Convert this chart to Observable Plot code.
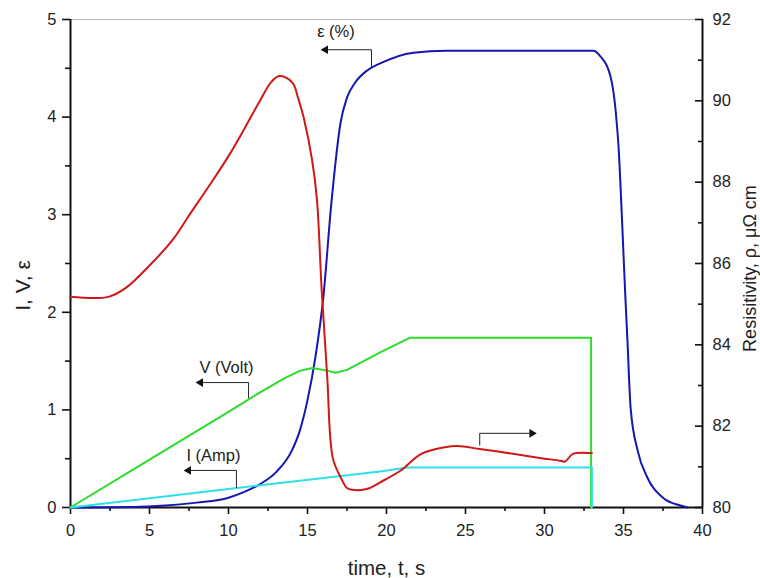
<!DOCTYPE html>
<html>
<head>
<meta charset="utf-8">
<script src="https://cdn.jsdelivr.net/npm/d3@7"></script>
<script src="https://cdn.jsdelivr.net/npm/@observablehq/plot@0.6"></script>
<style>
  html, body { margin: 0; padding: 0; background: #fff; }
</style>
</head>
<body>
<div id="chart"></div>
<script>
// ---- Data ----
// Resistivity rho (right axis, µΩ cm)
const tRho = [0, 2.4, 3.5, 5, 6.5, 7.5, 9, 10, 11, 12, 12.7, 13.2, 13.7, 14.1, 14.4, 14.75, 15.3, 15.6, 15.9, 16.25, 16.6, 17.1, 17.5, 18, 18.8, 19.6, 20.9, 22.2, 23.8, 24.5, 25.9, 28, 29.7, 31, 31.3, 31.8, 32.9, 33];
const rho  = [85.18, 85.18, 85.4, 85.95, 86.6, 87.18, 88.04, 88.64, 89.31, 90.01, 90.46, 90.61, 90.56, 90.42, 90.08, 89.6, 88.52, 87.56, 85.33, 83.2, 81.22, 80.74, 80.48, 80.43, 80.46, 80.62, 80.91, 81.32, 81.49, 81.51, 81.44, 81.32, 81.22, 81.15, 81.13, 81.32, 81.34, 81.34];
// Strain epsilon (%)
const tEps = [0, 4, 6, 8, 10, 11, 12, 13, 14, 14.5, 15, 15.5, 16, 16.5, 17.1, 17.5, 18, 18.8, 19.6, 21.7, 23.8, 33.1, 33.5, 34.2, 34.5, 34.7, 34.9, 35.1, 35.25, 35.45, 35.9, 36.5, 37.5, 38.6, 39.05];
const eps  = [0, 0.005, 0.02, 0.05, 0.1, 0.16, 0.24, 0.36, 0.58, 0.78, 1.1, 1.54, 2.15, 3.1, 3.95, 4.2, 4.35, 4.48, 4.55, 4.66, 4.68, 4.68, 4.63, 4.4, 4.07, 3.66, 2.97, 2.22, 1.71, 1.02, 0.58, 0.31, 0.1, 0.02, 0];
// Voltage V (Volt)
const tV = [0, 5, 10, 12, 13.5, 14.5, 15.3, 16, 16.8, 17.5, 19.6, 21.5, 32.95, 32.95];
const volt = [0, 0.49, 0.98, 1.18, 1.32, 1.40, 1.43, 1.41, 1.38, 1.41, 1.59, 1.74, 1.74, 0];
// Current I (Amp)
const tI = [0, 10, 19.6, 21.3, 33, 33];
const amp = [0, 0.19, 0.37, 0.41, 0.41, 0];

// Axis ticks
const xMajor = [0, 5, 10, 15, 20, 25, 30, 35, 40];
const xMinor = [2.5, 7.5, 12.5, 17.5, 22.5, 27.5, 32.5, 37.5];
const yMajor = [0, 1, 2, 3, 4, 5];
const yMinor = [0.5, 1.5, 2.5, 3.5, 4.5];
const rhoMajor = [80, 82, 84, 86, 88, 90, 92];
const rhoMinor = [81, 83, 85, 87, 89, 91];

// Annotations
const annoText = ["ε (%)", "V (Volt)", "I (Amp)"];
const annoT = [16.8, 9.87, 9.05];
const annoV = [4.87, 1.43, 0.53];
// leader: vertical leg at legT from legLow to legHigh, horizontal leg at legHigh to headT
const legT = [19.05, 11.27, 10.5, 25.9];
const legLow = [4.51, 1.12, 0.2, 0.635];
const legHigh = [4.69, 1.28, 0.38, 0.76];
const headT = [16.14, 8.23, 7.47, 29.2];
const headDir = [-1, -1, -1, 1];

// ---- Build tables ----
const rhoToY = r => (r - 80) / 2.4;
const dRho = tRho.map((t, i) => ({t, v: rhoToY(rho[i])}));
const dEps = tEps.map((t, i) => ({t, v: eps[i]}));
const dV = tV.map((t, i) => ({t, v: volt[i]}));
const dI = tI.map((t, i) => ({t, v: amp[i]}));
const annos = annoText.map((s, i) => ({s, t: annoT[i], v: annoV[i]}));
const legs = legT.map((t, i) => ({t, lo: legLow[i], hi: legHigh[i], h: headT[i], dir: headDir[i]}));

const font = "Arial, 'Liberation Sans', Helvetica, sans-serif";
const axisStroke = "#111";

const chart = Plot.plot({
  width: 760,
  height: 578,
  marginLeft: 70,
  marginRight: 58,
  marginTop: 19,
  marginBottom: 71,
  style: {fontFamily: font, fontSize: "16px", color: "#222", background: "#fff"},
  x: {domain: [0, 40], label: null},
  y: {domain: [0, 5], label: null},
  marks: [
    // top frame line
    Plot.ruleY([5], {stroke: "#b8b8b8", strokeWidth: 1}),
    // bottom axis
    Plot.axisX({ticks: xMajor, tickSize: 7, tickPadding: 10, stroke: axisStroke, strokeWidth: 1.6, fontSize: 16.5, label: null, tickFormat: d => String(d)}),
    Plot.axisX({ticks: xMinor, tickSize: 4, tickFormat: () => "", stroke: axisStroke, strokeWidth: 1.6, label: null}),
    // left axis
    Plot.axisY({anchor: "left", ticks: yMajor, tickSize: 8, tickPadding: 6, stroke: axisStroke, strokeWidth: 1.6, fontSize: 16.5, label: null, tickFormat: d => String(d)}),
    Plot.axisY({anchor: "left", ticks: yMinor, tickSize: 5, tickFormat: () => "", stroke: axisStroke, strokeWidth: 1.6, label: null}),
    // right axis (resistivity), ticks pointing inward
    Plot.axisY({anchor: "right", ticks: rhoMajor.map(rhoToY), tickSize: 8, dx: -8, tickFormat: () => "", stroke: axisStroke, strokeWidth: 1.6, label: null}),
    Plot.axisY({anchor: "right", ticks: rhoMinor.map(rhoToY), tickSize: 5, dx: -5, tickFormat: () => "", stroke: axisStroke, strokeWidth: 1.6, label: null}),
    Plot.axisY({anchor: "right", ticks: rhoMajor.map(rhoToY), tickSize: 0, tickPadding: 10,
      tickFormat: (d) => String(Math.round(d * 2.4 + 80)), fontSize: 16.5, label: null}),
    Plot.ruleX([0], {stroke: axisStroke, strokeWidth: 2}),
    Plot.ruleX([40], {stroke: axisStroke, strokeWidth: 2}),
    Plot.ruleY([0], {stroke: axisStroke, strokeWidth: 2}),

    // axis titles
    Plot.text(["I, V, ε"], {frameAnchor: "left", textAnchor: "middle", lineAnchor: "middle", dx: -47, dy: 22, rotate: -90, fontSize: 21, fill: "#222"}),
    Plot.text(["Resisitivity, ρ, μΩ cm"], {frameAnchor: "right", textAnchor: "middle", lineAnchor: "middle", dx: 48, dy: 5, rotate: -90, fontSize: 18, fill: "#222"}),
    Plot.text(["time, t, s"], {frameAnchor: "bottom", textAnchor: "middle", lineAnchor: "middle", dy: 61, fontSize: 20.5, fill: "#222"}),

    // data
    Plot.line(dEps, {x: "t", y: "v", stroke: "#1616b0", strokeWidth: 2, curve: "monotone-x"}),
    Plot.line(dV, {x: "t", y: "v", stroke: "#2bdc2b", strokeWidth: 2, curve: "linear"}),
    Plot.line(dI, {x: "t", y: "v", stroke: "#2ee0e6", strokeWidth: 2, curve: "linear"}),
    Plot.line(dRho, {x: "t", y: "v", stroke: "#d01818", strokeWidth: 2, curve: "catmull-rom"}),

    // annotation leaders
    Plot.link(legs, {x1: "t", x2: "t", y1: "lo", y2: "hi", stroke: "#222", strokeWidth: 1}),
    Plot.link(legs, {x1: "t", x2: "h", y1: "hi", y2: "hi", stroke: "#222", strokeWidth: 1}),
    Plot.dot(legs, {x: "h", y: "hi", symbol: "triangle", r: 3.2, fill: "#111", stroke: null,
      rotate: d => d.dir < 0 ? -90 : 90}),
    Plot.text(annos, {x: "t", y: "v", text: "s", fontSize: 16.5, fill: "#222"})
  ]
});

document.getElementById("chart").appendChild(chart);
</script>
</body>
</html>
